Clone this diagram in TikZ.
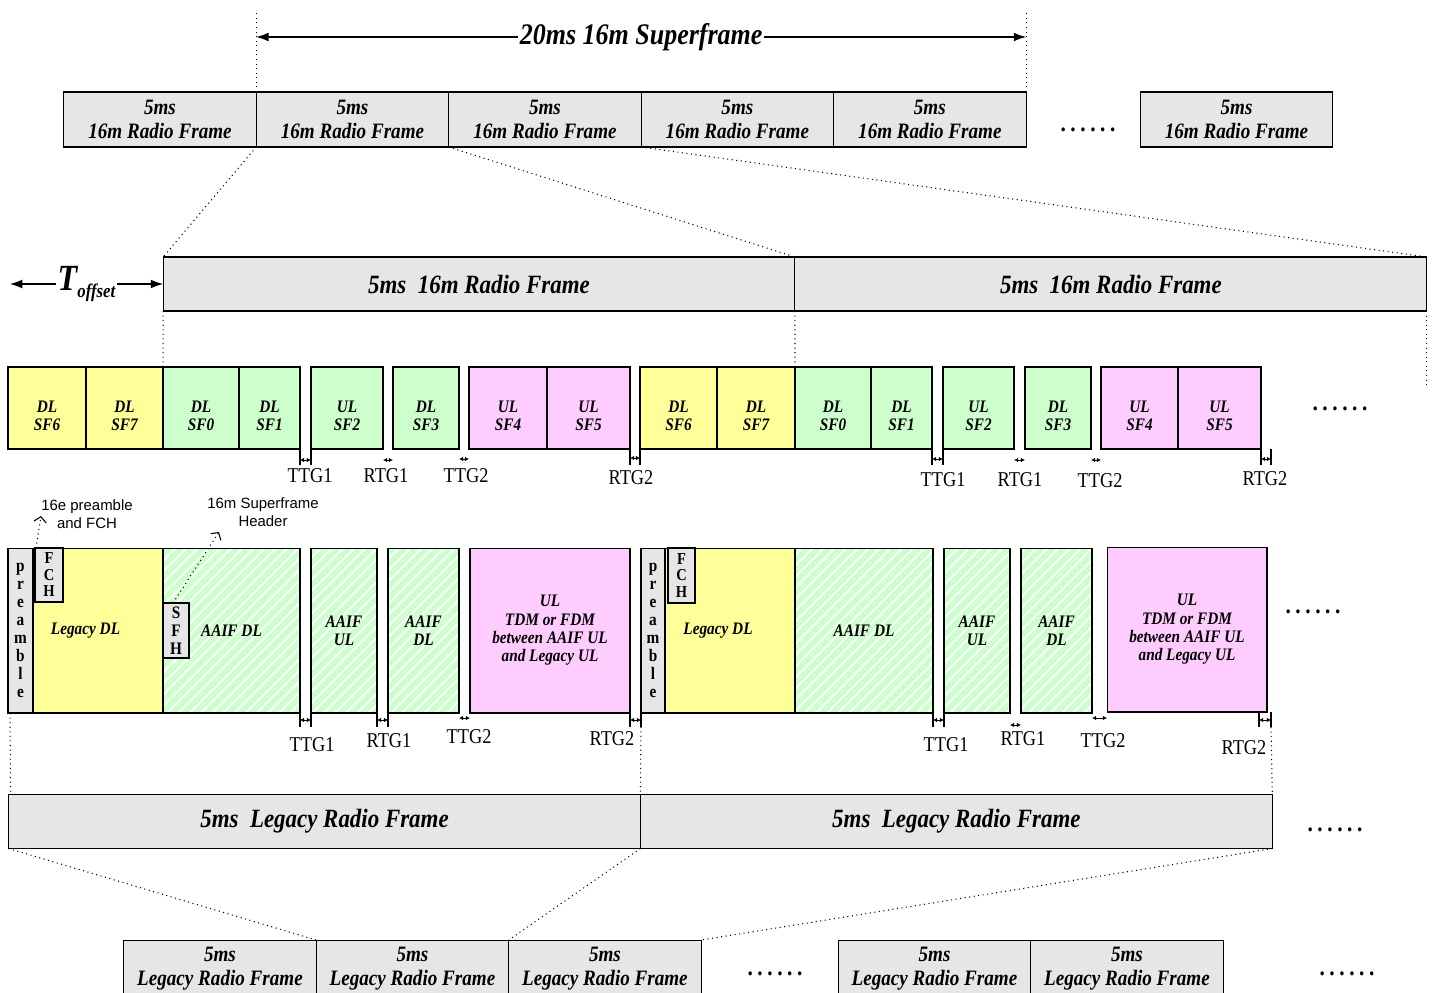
\documentclass[tikz,border=0pt]{standalone}
\usepackage{fontspec}
\setmainfont{Liberation Serif}[FakeStretch=0.87]
\newfontfamily\annfont{Liberation Sans}
\usetikzlibrary{arrows.meta, positioning, patterns.meta}
\definecolor{framegray}{RGB}{230,230,230}
\definecolor{dlyellow}{RGB}{255,255,153}
\definecolor{dlgreen}{RGB}{204,255,204}
\definecolor{ulpink}{RGB}{255,204,255}
\newcommand{\moredots}{{\fontsize{14}{14}\selectfont\bfseries .\kern2.6pt.\kern2.6pt.\kern2.6pt.\kern2.6pt.\kern2.6pt.}}

\begin{document}
\begin{tikzpicture}[x=0.02cm, y=-0.02cm,
  blk/.style={draw, line width=0.6pt, inner sep=0pt, outer sep=0pt, align=center},
  frame16/.style={blk, fill=framegray, minimum width=3.85cm, minimum height=1.1cm, font=\fontsize{12.5}{13.6}\selectfont\bfseries\itshape},
  wideframe/.style={blk, fill=framegray, minimum width=12.64cm, minimum height=1.08cm, font=\fontsize{15}{17}\selectfont\bfseries\itshape},
  sub/.style={blk, font=\fontsize{10}{10.4}\selectfont\bfseries\itshape},
  sfcell/.style={sub, minimum height=1.64cm},
  sftext/.style={label={[inner sep=0pt, align=center, yshift=-4.5pt, font=\fontsize{10}{10.4}\selectfont\bfseries\itshape]center:{#1}}},
  zone/.style={sub, minimum height=3.3cm},
  dlold/.style={fill=dlyellow},
  dlnew/.style={fill=dlgreen},
  ulzone/.style={fill=ulpink},
  hatched/.style={preaction={fill=dlgreen}, preaction={pattern={Lines[angle=45, distance=4.5pt, line width=1.1pt]}, pattern color=white}},
  ctrl/.style={blk, fill=framegray, font=\fontsize{10}{10.3}\selectfont\bfseries},
  zoomline/.style={dotted, line width=0.6pt},
  bigarr/.style={{Latex[length=7pt, width=5pt]}-{Latex[length=7pt, width=5pt]}, line width=0.6pt},
  gaparr/.style={{Latex[length=2.4pt, width=2.6pt]}-{Latex[length=2.4pt, width=2.6pt]}, line width=0.5pt},
  gapbar/.style={line width=0.6pt},
  gaplbl/.style={font=\fontsize{12}{12}\selectfont, inner sep=0pt},
  annot/.style={font=\annfont\fontsize{8.5}{10.2}\selectfont, align=center, inner sep=0pt},
  notearr/.style={dotted, line width=0.6pt, -{Straight Barb[length=3pt, width=7pt]}},
  dotsnode/.style={inner sep=0pt, anchor=base}
]
  \useasboundingbox (0,0) rectangle (1432,992);

  % 16m radio frames
  \node[frame16] (f16a) at (160,119.5) {5ms\\16m Radio Frame};
  \node[frame16, right=0pt of f16a] (f16b) {5ms\\16m Radio Frame};
  \node[frame16, right=0pt of f16b] (f16c) {5ms\\16m Radio Frame};
  \node[frame16, right=0pt of f16c] (f16d) {5ms\\16m Radio Frame};
  \node[frame16, right=0pt of f16d] (f16e) {5ms\\16m Radio Frame};
  \node[dotsnode] (dotsa) at (1088,131) {\moredots};
  \node[frame16] (f16g) at (1236.5,119.5) {5ms\\16m Radio Frame};

  % superframe span
  \draw[zoomline] (f16b.north west) -- ++(0,-82);
  \draw[zoomline] (f16e.north east) -- ++(0,-82);
  \draw[bigarr] (f16b.north west |- 0,37) -- (f16e.north east |- 0,37)
    node[midway, fill=white, inner sep=1pt, font=\fontsize{17}{17}\selectfont\bfseries\itshape] (sfspan) {20ms 16m Superframe};

  % two 16m frames, zoomed
  \node[wideframe] (sfa) at (479,284) {5ms\ \ 16m Radio Frame};
  \node[wideframe, right=0pt of sfa] (sfb) {5ms\ \ 16m Radio Frame};
  \draw[zoomline] (f16b.south west) -- (sfa.north west);
  \draw[zoomline] (f16c.south west) -- (sfa.north east);
  \draw[zoomline] (f16d.south west) -- (sfb.north east);

  \coordinate (toffl) at (10,284);
  \draw[bigarr] (toffl) -- (sfa.west)
    node[midway, fill=white, inner sep=1pt, font=\bfseries\itshape] (toff)
    {{\fontsize{21}{21}\selectfont T}\raisebox{-4pt}{\fontsize{11}{11}\selectfont offset}};

  % subframes
  \node[sfcell, dlold, minimum width=1.56cm, sftext={DL\\SF6}] (sf6a) at (47,408) {};
  \node[sfcell, dlold, minimum width=1.54cm, sftext={DL\\SF7}] (sf7a) at (124.5,408) {};
  \node[sfcell, dlnew, minimum width=1.52cm, sftext={DL\\SF0}] (sf0a) at (201,408) {};
  \node[sfcell, dlnew, minimum width=1.22cm, sftext={DL\\SF1}] (sf1a) at (269.5,408) {};
  \node[sfcell, dlnew, minimum width=1.44cm, sftext={UL\\SF2}] (sf2a) at (347,408) {};
  \node[sfcell, dlnew, minimum width=1.32cm, sftext={DL\\SF3}] (sf3a) at (426,408) {};
  \node[sfcell, ulzone, minimum width=1.56cm, sftext={UL\\SF4}] (sf4a) at (508,408) {};
  \node[sfcell, ulzone, minimum width=1.66cm, sftext={UL\\SF5}] (sf5a) at (588.5,408) {};
  \node[sfcell, dlold, minimum width=1.54cm, sftext={DL\\SF6}] (sf6b) at (678.5,408) {};
  \node[sfcell, dlold, minimum width=1.56cm, sftext={DL\\SF7}] (sf7b) at (756,408) {};
  \node[sfcell, dlnew, minimum width=1.52cm, sftext={DL\\SF0}] (sf0b) at (833,408) {};
  \node[sfcell, dlnew, minimum width=1.22cm, sftext={DL\\SF1}] (sf1b) at (901.5,408) {};
  \node[sfcell, dlnew, minimum width=1.42cm, sftext={UL\\SF2}] (sf2b) at (978.5,408) {};
  \node[sfcell, dlnew, minimum width=1.32cm, sftext={DL\\SF3}] (sf3b) at (1058,408) {};
  \node[sfcell, ulzone, minimum width=1.54cm, sftext={UL\\SF4}] (sf4b) at (1139.5,408) {};
  \node[sfcell, ulzone, minimum width=1.66cm, sftext={UL\\SF5}] (sf5b) at (1219.5,408) {};
  \node[dotsnode] (dotsb) at (1340,410) {\moredots};

  \draw[zoomline] (sfa.south west) -- (sf0a.north west |- 0,387);
  \draw[zoomline] (sfb.south west) -- (sf0b.north west);
  \draw[zoomline] (sfb.south east) -- ++(0,76);

  % gaps, subframe row
  \coordinate (rtgendb) at (1271,449);
  \draw[gapbar] (sf1a.south east) -- ++(0,16);
  \draw[gapbar] (sf2a.south west) -- ++(0,16);
  \draw[gaparr] (sf1a.south east |- 0,460) -- (sf2a.south west |- 0,460);
  \draw[gaparr] (sf2a.south east |- 0,460) -- (sf3a.south west |- 0,460);
  \draw[gaparr] (sf3a.south east |- 0,459) -- (sf4a.south west |- 0,459);
  \draw[gapbar] (sf5a.south east) -- ++(0,16);
  \draw[gapbar] (sf6b.south west) -- ++(0,16);
  \draw[gaparr] (sf5a.south east |- 0,458) -- (sf6b.south west |- 0,458);
  \draw[gapbar] (sf1b.south east) -- ++(0,16);
  \draw[gapbar] (sf2b.south west) -- ++(0,16);
  \draw[gaparr] (sf1b.south east |- 0,459) -- (sf2b.south west |- 0,459);
  \draw[gaparr] (sf2b.south east |- 0,460) -- (sf3b.south west |- 0,460);
  \draw[gaparr] (sf3b.south east |- 0,460) -- (sf4b.south west |- 0,460);
  \draw[gapbar] (sf5b.south east) -- ++(0,16);
  \draw[gapbar] (rtgendb) -- ++(0,16);
  \draw[gaparr] (sf5b.south east |- 0,459) -- (rtgendb |- 0,459);

  \node[gaplbl] (ttg1a) at (310,476) {TTG1};
  \node[gaplbl] (rtg1a) at (386,476) {RTG1};
  \node[gaplbl] (ttg2a) at (466,476) {TTG2};
  \node[gaplbl] (rtg2a) at (631,478) {RTG2};
  \node[gaplbl] (ttg1b) at (943,480) {TTG1};
  \node[gaplbl] (rtg1b) at (1020,480) {RTG1};
  \node[gaplbl] (ttg2b) at (1100,481) {TTG2};
  \node[gaplbl] (rtg2b) at (1265,479) {RTG2};

  % detailed frame structure
  \node[zone, dlold, minimum width=3.1cm] (legdla) at (85.5,630.5) {Legacy DL};
  \node[ctrl, minimum width=0.5cm, minimum height=3.3cm] (prea) at (20.5,630.5) {p\\r\\e\\a\\m\\b\\l\\e};
  \node[ctrl, minimum width=0.56cm, minimum height=1.08cm, font=\fontsize{9.5}{9.4}\selectfont\bfseries] (fcha) at (49,575) {F\\C\\H};
  \node[zone, hatched, minimum width=2.74cm] (aaifdla) at (231.5,630.5) {AAIF DL};
  \node[ctrl, minimum width=0.52cm, minimum height=1.1cm] (sfh) at (176,630.5) {S\\F\\H};
  \node[zone, hatched, minimum width=1.32cm] (aaifula) at (344,630.5) {AAIF\\UL};
  \node[zone, hatched, minimum width=1.42cm] (aaifdlb) at (423.5,630.5) {AAIF\\DL};
  \node[zone, ulzone, minimum width=3.2cm] (ulmixa) at (550,630.5) {UL\\TDM or FDM\\between AAIF UL\\and Legacy UL};

  \node[zone, dlold, minimum width=3.08cm] (legdlb) at (718,630.5) {Legacy DL};
  \node[ctrl, minimum width=0.48cm, minimum height=3.3cm] (preb) at (653,630.5) {p\\r\\e\\a\\m\\b\\l\\e};
  \node[ctrl, minimum width=0.54cm, minimum height=1.1cm, font=\fontsize{9.5}{9.4}\selectfont\bfseries] (fchb) at (681.5,575.5) {F\\C\\H};
  \node[zone, hatched, minimum width=2.76cm] (aaifdlc) at (864,630.5) {AAIF DL};
  \node[zone, hatched, minimum width=1.32cm] (aaifulb) at (977,630.5) {AAIF\\UL};
  \node[zone, hatched, minimum width=1.42cm] (aaifdld) at (1056.5,630.5) {AAIF\\DL};
  \node[zone, ulzone, minimum width=3.2cm] (ulmixb) at (1187,629.5) {UL\\TDM or FDM\\between AAIF UL\\and Legacy UL};
  \node[dotsnode] (dotsc) at (1313,613) {\moredots};

  \node[annot] (prenote) at (87,514) {16e preamble\\and FCH};
  \coordinate (prehead) at (41,516);
  \draw[notearr] ([xshift=0.02cm]fcha.north west) -- (prehead);
  \node[annot] (sfhnote) at (263,512) {16m Superframe\\Header};
  \coordinate (sfhhead) at (219,532);
  \draw[notearr] ([xshift=0.2cm]sfh.north west) -- (sfhhead);

  % gaps, detailed row
  \draw[gapbar] (aaifdla.south east) -- ++(0,14);
  \draw[gapbar] (aaifula.south west) -- ++(0,14);
  \draw[gaparr] (aaifdla.south east |- 0,720) -- (aaifula.south west |- 0,720);
  \draw[gapbar] (aaifula.south east) -- ++(0,14);
  \draw[gapbar] (aaifdlb.south west) -- ++(0,14);
  \draw[gaparr] (aaifula.south east |- 0,720) -- (aaifdlb.south west |- 0,720);
  \draw[gaparr] (aaifdlb.south east |- 0,718) -- (ulmixa.south west |- 0,718);
  \draw[gapbar] (ulmixa.south east) -- ++(0,14);
  \draw[gapbar] (preb.south west) -- ++(0,14);
  \draw[gaparr] (ulmixa.south east |- 0,720) -- (preb.south west |- 0,720);
  \draw[gapbar] (aaifdlc.south east) -- ++(0,14);
  \draw[gapbar] (aaifulb.south west) -- ++(0,14);
  \draw[gaparr] (aaifdlc.south east |- 0,720) -- (aaifulb.south west |- 0,720);
  \draw[gaparr] (aaifulb.south east |- 0,725) -- (aaifdld.south west |- 0,725);
  \draw[gaparr] (aaifdld.south east |- 0,718) -- (ulmixb.south west |- 0,718);
  \coordinate (rtgbar) at (1259,712);
  \coordinate (rtgend) at (1271,712);
  \draw[gapbar] (rtgbar) -- ++(0,15);
  \draw[gapbar] (rtgend) -- ++(0,15);
  \draw[gaparr] (rtgbar |- 0,720) -- (rtgend |- 0,720);

  \node[gaplbl] (ttg1c) at (312,745) {TTG1};
  \node[gaplbl] (rtg1c) at (389,741) {RTG1};
  \node[gaplbl] (ttg2c) at (469,737) {TTG2};
  \node[gaplbl] (rtg2c) at (612,739) {RTG2};
  \node[gaplbl] (ttg1d) at (946,745) {TTG1};
  \node[gaplbl] (rtg1d) at (1023,739) {RTG1};
  \node[gaplbl] (ttg2d) at (1103,741) {TTG2};
  \node[gaplbl] (rtg2d) at (1244,748) {RTG2};

  % legacy radio frames
  \node[wideframe] (lega) at (324.5,821.5) {5ms\ \ Legacy Radio Frame};
  \node[wideframe, right=0pt of lega] (legb) {5ms\ \ Legacy Radio Frame};
  \node[dotsnode] (dotsd) at (1335,831) {\moredots};
  \draw[zoomline] ([xshift=0.04cm]prea.south west) -- ([xshift=0.04cm]lega.north west);
  \draw[zoomline] (preb.south west) -- (legb.north west);
  \draw[zoomline] (rtgend |- 0,727) -- (legb.north east);

  \node[frame16, minimum height=1.14cm] (lr1) at (220,968.5) {5ms\\Legacy Radio Frame};
  \node[frame16, minimum height=1.14cm, right=0pt of lr1] (lr2) {5ms\\Legacy Radio Frame};
  \node[frame16, minimum height=1.14cm, right=0pt of lr2] (lr3) {5ms\\Legacy Radio Frame};
  \node[dotsnode] (dotse) at (775,975) {\moredots};
  \node[frame16, minimum height=1.14cm] (lr4) at (934.5,968.5) {5ms\\Legacy Radio Frame};
  \node[frame16, minimum height=1.14cm, right=0pt of lr4] (lr5) {5ms\\Legacy Radio Frame};
  \node[dotsnode] (dotsf) at (1347,975) {\moredots};
  \draw[zoomline] (lega.south west) -- (lr1.north east);
  \draw[zoomline] (lega.south east) -- (lr2.north east);
  \draw[zoomline] (legb.south east) -- (lr3.north east);
\end{tikzpicture}
\end{document}
